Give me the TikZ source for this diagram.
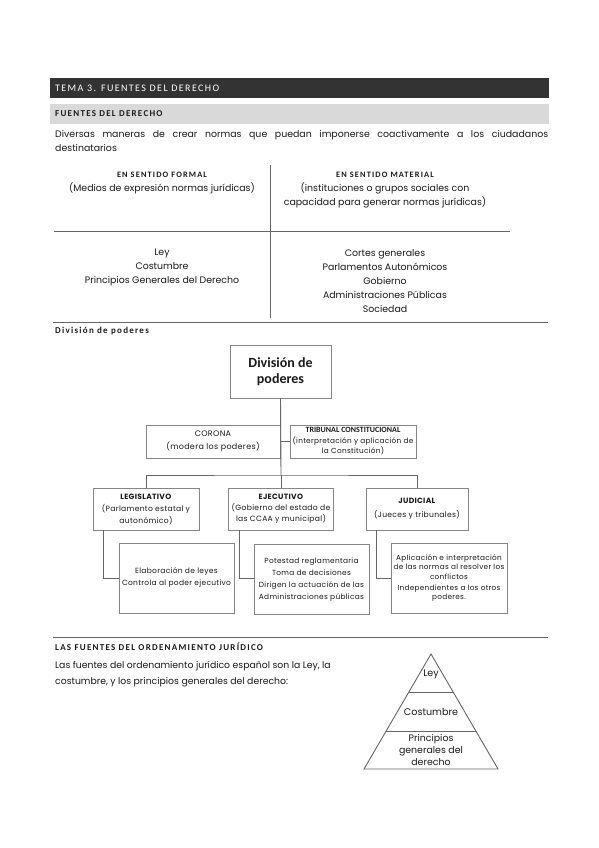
\documentclass[tikz,border=0pt]{standalone}
\usepackage{fontspec}
\setmainfont{Poppins}
\newfontfamily\hd{Carlito}
\newfontfamily\hdsp[LetterSpace=14]{Carlito}
\newfontfamily\orgf[LetterSpace=4]{Poppins}
\definecolor{hdark}{HTML}{333333}
\definecolor{hlight}{HTML}{D9D9D9}
\definecolor{txt}{HTML}{1A1A1A}
\definecolor{lgray}{HTML}{666666}
\definecolor{bgray}{HTML}{858585}
\tikzset{
  tline/.style={draw=lgray, line width=0.9pt},
  conn/.style={draw=lgray, line width=0.9pt},
  obox/.style={draw=bgray, line width=0.9pt, rectangle, inner sep=0.5pt, align=center, text=txt},
  body/.style={font=\fontsize{9.4}{14}\selectfont, text=txt},
  colhead/.style={font=\hdsp\bfseries\fontsize{8.3}{10}\selectfont, text=txt},
  secthead/.style={font=\hdsp\bfseries\fontsize{9}{10}\selectfont, text=txt, anchor=west, inner sep=0}
}
\begin{document}
\begin{tikzpicture}[x=1pt,y=-1pt]
\useasboundingbox (0,0) rectangle (599,848);
\fill[white] (0,0) rectangle (599,848);
% header bars
\fill[hdark] (50,78) rectangle (549,98);
\node[anchor=west, inner sep=0, text=white, font=\hdsp\fontsize{10}{10}\selectfont] (t1) at (55,88) {TEMA 3. FUENTES DEL DERECHO};
\fill[hlight] (50,104) rectangle (549,124);
\node[secthead] (t2) at (55,114) {FUENTES DEL DERECHO};
\node[anchor=north west, inner sep=0, text width=493pt, align=justify, text=txt, font=\fontsize{9.4}{14}\selectfont] (p1) at (55,130) {Diversas maneras de crear normas que puedan imponerse coactivamente a los ciudadanos\linebreak destinatarios};
% table
\draw[tline] (270,165) -- (270,318);
\draw[tline] (54,231) -- (510,231);
\draw[tline] (53,322) -- (548,322);
\node[colhead] (fh) at (162,175) {EN SENTIDO FORMAL};
\node[body] (fs) at (162,188) {(Medios de expresión normas jurídicas)};
\node[colhead] (mh) at (385,175) {EN SENTIDO MATERIAL};
\node[body, align=center] (ms) at (385,195.5) {(instituciones o grupos sociales con\\capacidad para generar normas jurídicas)};
\node[body, align=center] (fl) at (162,267) {Ley\\Costumbre\\Principios Generales del Derecho};
\node[body, align=center] (ml) at (385,281) {Cortes generales\\Parlamentos Autonómicos\\Gobierno\\Administraciones Públicas\\Sociedad};
\node[secthead] (dv) at (55,331) {División de poderes};
% org chart
\node[obox, minimum width=101pt, minimum height=53pt, font=\hd\bfseries\fontsize{14}{16}\selectfont] (dp) at (280.5,371.5) {División de\\poderes};
\node[obox, minimum width=134pt, minimum height=33pt, font=\orgf\fontsize{8}{13}\selectfont] (cor) at (213,441.5) {CORONA\\(modera los poderes)};
\node[obox, minimum width=126pt, minimum height=33pt, font=\orgf\fontsize{7.3}{10.5}\selectfont] (tri) at (353,441.5) {{\hd\bfseries\fontsize{8}{10}\selectfont TRIBUNAL CONSTITUCIONAL}\\(interpretación y aplicación de\\la Constitución)};
\node[obox, minimum width=106pt, minimum height=42pt, font=\orgf\fontsize{7.6}{12}\selectfont] (leg) at (146,509) {\textbf{LEGISLATIVO}\\(Parlamento estatal y\\autonómico)};
\node[obox, minimum width=105pt, minimum height=42pt, font=\orgf\fontsize{7.6}{11}\selectfont] (eje) at (281,509) {\textbf{EJECUTIVO}\\(Gobierno del estado de\\las CCAA y municipal)};
\node[obox, minimum width=102pt, minimum height=42pt, font=\orgf\fontsize{7.6}{14}\selectfont] (jud) at (417,509) {\textbf{JUDICIAL}\\(Jueces y tribunales)};
\node[obox, minimum width=115pt, minimum height=70pt, font=\orgf\fontsize{7.5}{12}\selectfont] (legs) at (176.5,578) {Elaboración de leyes\\Controla al poder ejecutivo};
\node[obox, minimum width=115pt, minimum height=70pt, font=\orgf\fontsize{7.4}{12}\selectfont] (ejes) at (311.5,579.5) {Potestad reglamentaria\\Toma de decisiones\\Dirigen la actuación de las\\Administraciones públicas};
\node[obox, minimum width=116pt, minimum height=70pt, font=\orgf\fontsize{7.3}{9.5}\selectfont] (juds) at (449,578) {Aplicación e interpretación\\de las normas al resolver los\\conflictos\\[1.5pt]Independientes a los otros\\poderes.};
\coordinate (bus) at (281,475);
\draw[conn] (dp.south) -- (bus);
\draw[conn] (cor.east) -- (tri.west);
\draw[conn] (leg.north) |- (bus) -| (jud.north);
\draw[conn] (bus) -- (eje.north);
\draw[conn] ([xshift=11pt]leg.south west) |- (legs.west);
\draw[conn] ([xshift=11pt]eje.south west) |- (legs.west -| ejes.west);
\draw[conn] ([xshift=11pt]jud.south west) |- (juds.west);
% lower section
\draw[tline] (53,637) -- (548,637);
\node[secthead] (lf) at (55,647) {LAS FUENTES DEL ORDENAMIENTO JURÍDICO};
\node[anchor=north west, inner sep=0, align=left, text=txt, font=\fontsize{9.3}{16}\selectfont] (p2) at (55,661) {Las fuentes del ordenamiento jurídico español son la Ley, la\\costumbre, y los principios generales del derecho:};
% pyramid
\draw[draw=lgray, line width=0.9pt, line join=miter] (431,654) -- (498,769) -- (364,769) -- cycle;
\draw[draw=lgray, line width=0.9pt] (408.9,692) -- (453.1,692);
\draw[draw=lgray, line width=0.9pt] (386.1,731) -- (475.9,731);
\node[body, font=\fontsize{9.6}{12}\selectfont] (py1) at (431,674) {Ley};
\node[body, font=\fontsize{9.6}{12}\selectfont] (py2) at (431,712) {Costumbre};
\node[body, align=center, font=\fontsize{9.4}{12}\selectfont] (py3) at (431,750) {Principios\\generales del\\derecho};
\end{tikzpicture}
\end{document}
